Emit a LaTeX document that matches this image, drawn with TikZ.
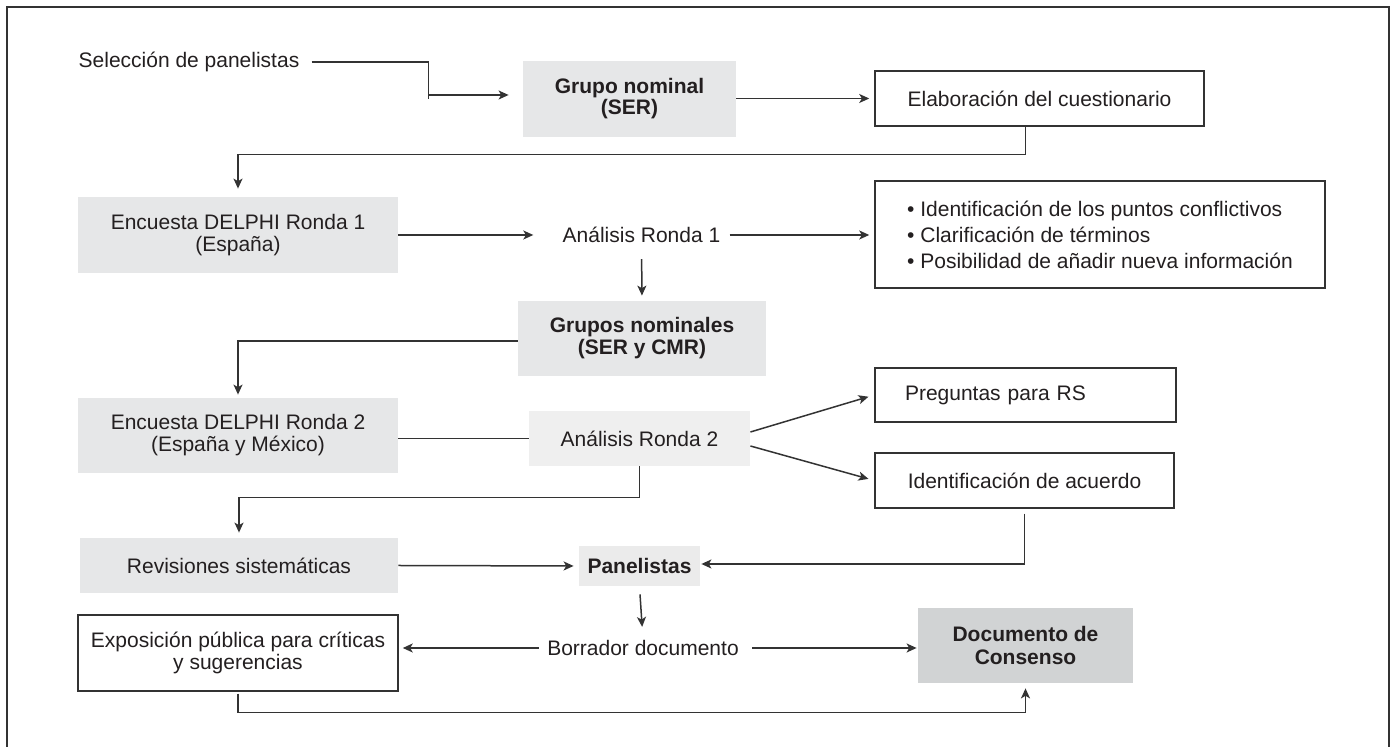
\documentclass[tikz,border=0pt]{standalone}
\usepackage{fontspec}
\setmainfont{Liberation Sans}
\usetikzlibrary{arrows.meta}
\definecolor{boxgray}{HTML}{E6E7E8}
\definecolor{lightgray}{HTML}{EFEFEF}
\definecolor{panelgray}{HTML}{EBEBEB}
\definecolor{docgray}{HTML}{D1D3D4}
\definecolor{linecol}{HTML}{333333}
\definecolor{textcol}{HTML}{231F20}
\tikzset{
  every node/.style={text=textcol, font=\fontsize{10.5}{11}\selectfont},
  plain/.style={inner sep=0pt},
  graybox/.style={fill=boxgray, inner sep=0pt, align=center},
  whitebox/.style={draw=linecol, line width=0.75pt, fill=white, inner sep=0pt, align=center},
  arr/.style={draw=linecol, line width=0.75pt, -{Stealth[length=5pt,width=4.5pt,inset=1.3pt]}},
  ln/.style={draw=linecol, line width=0.75pt},
}
\begin{document}
\begin{tikzpicture}[x=0.5pt, y=-0.5pt]
    \useasboundingbox (0,0) rectangle (1394,747);
    \draw [linecol, line width=0.6pt] (7,747) -- (7,7) -- (1389,7) -- (1389,747);

    \node[plain] (sel) at (189,62) {Selección de panelistas};
    \node[graybox, minimum width=106.5pt, minimum height=38pt, font=\bfseries\fontsize{10.5}{10.5}\selectfont] (grupo) at (629.5,99) {Grupo nominal\\(SER)};
    \node[whitebox, minimum width=164.5pt, minimum height=27.5pt] (elab) at (1039.5,98.5) {Elaboración del cuestionario};

    \node[graybox, minimum width=160pt, minimum height=38pt] (enc1) at (238,235) {Encuesta DELPHI Ronda 1\\(España)};
    \node[plain] (analisis1) at (641.5,235) {Análisis Ronda 1};
    \node[whitebox, minimum width=225pt, minimum height=53.5pt, align=left, font=\fontsize{10.5}{13}\selectfont] (puntos) at (1100,234.5) {• Identificación de los puntos conflictivos\\• Clarificación de términos\\• Posibilidad de añadir nueva información};

    \node[graybox, minimum width=124pt, minimum height=37.5pt, font=\bfseries\fontsize{10.5}{11}\selectfont] (grupos) at (642,338.5) {Grupos nominales\\(SER y CMR)};

    \node[graybox, minimum width=160pt, minimum height=37.5pt] (enc2) at (238,435.5) {Encuesta DELPHI Ronda 2\\(España y México)};
    \node[graybox, fill=lightgray, minimum width=110.5pt, minimum height=27.5pt] (analisis2) at (639.5,438.5) {Análisis Ronda 2};
    \node[whitebox, text width=120.5pt, inner xsep=15pt, minimum height=27pt, align=left] (preguntas) at (1025.5,395) {Preguntas para RS};
    \node[whitebox, minimum width=149.5pt, minimum height=27.5pt] (acuerdo) at (1024.5,480.5) {Identificación de acuerdo};

    \node[graybox, minimum width=159pt, minimum height=27.5pt] (revisiones) at (239,565.5) {Revisiones sistemáticas};
    \node[graybox, fill=panelgray, minimum width=60.5pt, minimum height=20pt, font=\bfseries\fontsize{10.5}{11}\selectfont] (panelistas) at (639.5,566) {Panelistas};

    \node[whitebox, minimum width=160pt, minimum height=38pt] (exposicion) at (238,653) {Exposición pública para críticas\\y sugerencias};
    \node[plain] (borrador) at (643,648) {Borrador documento};
    \node[graybox, fill=docgray, minimum width=107.5pt, minimum height=37.5pt, font=\bfseries\fontsize{10.5}{11.5}\selectfont] (consenso) at (1025.5,645.5) {Documento de\\Consenso};

    \draw [arr, shorten <=6pt, shorten >=7pt] (sel.east) -| ([xshift=-47pt]grupo.west) |- ([yshift=2pt]grupo.west);
    \draw [arr, shorten >=2.5pt] (grupo.east |- elab.west) -- (elab.west);
    \draw [arr, shorten >=4pt] ([xshift=-7pt]elab.south) -- ++(0,28) -| (enc1.north);
    \draw [arr, shorten >=14.5pt] (enc1.east) -- (analisis1.west);
    \draw [arr, shorten <=4.5pt, shorten >=2.5pt] (analisis1.east) -- (analisis1.east -| puntos.west);
    \draw [arr, shorten <=8pt, shorten >=2.5pt] (analisis1.south) -- (grupos.north);
    \draw [arr, shorten >=1.5pt] ([yshift=-1.25pt]grupos.west) -| (enc2.north);
    \draw [ln] (enc2.east |- analisis2.west) -- (analisis2.west);
    \draw [arr, shorten >=3pt] ([yshift=3.25pt]analisis2.east) -- (preguntas.west);
    \draw [arr, shorten >=3pt] ([yshift=-3.75pt]analisis2.east) -- (acuerdo.west);
    \draw [arr, shorten >=2.5pt] (analisis2.south) -- ++(0,31) -| (revisiones.north);
    \draw [arr, shorten >=2.5pt] (revisiones.east) -- (panelistas.west);
    \draw [arr, shorten >=0.5pt] ([yshift=-2.5pt]acuerdo.south) |- ([yshift=1pt]panelistas.east);
    \draw [arr, shorten <=4pt, shorten >=6.5pt] (panelistas.south) -- (borrador.north);
    \draw [arr, shorten <=4pt, shorten >=2pt] (borrador.west) -- (borrador.west -| exposicion.east);
    \draw [arr, shorten <=6.5pt, shorten >=0.5pt] (borrador.east) -- (borrador.east -| consenso.west);
    \draw [arr, shorten >=2.5pt] ([yshift=-1pt]exposicion.south) -- ++(0,19) -| (consenso.south);
\end{tikzpicture}
\end{document}
